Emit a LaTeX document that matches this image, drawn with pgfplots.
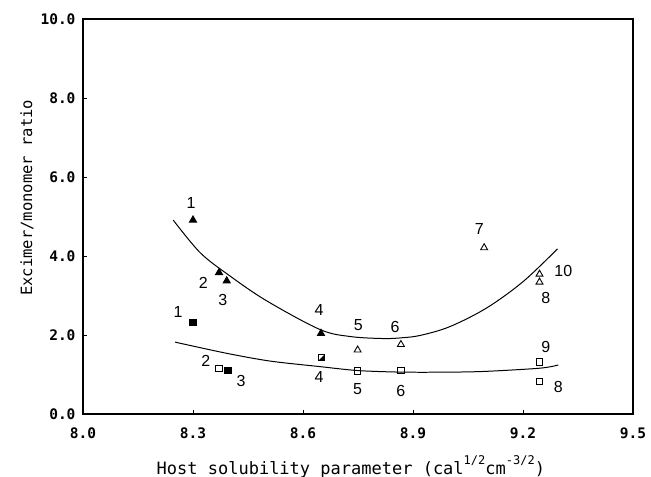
\documentclass[border=0pt]{standalone}
\usepackage{fontspec}
\setmainfont{Liberation Sans}
\newfontfamily\monofont{DejaVu Sans Mono}
\usepackage{pgfplots}
\pgfplotsset{compat=1.18}

% square with its lower-right half filled
\pgfdeclareplotmark{halfsquare}{%
  \pgfpathmoveto{\pgfqpoint{\pgfplotmarksize}{-\pgfplotmarksize}}%
  \pgfpathlineto{\pgfqpoint{\pgfplotmarksize}{\pgfplotmarksize}}%
  \pgfpathlineto{\pgfqpoint{-\pgfplotmarksize}{-\pgfplotmarksize}}%
  \pgfpathclose
  \pgfusepathqfill
  \pgfpathrectangle{\pgfqpoint{-\pgfplotmarksize}{-\pgfplotmarksize}}%
    {\pgfqpoint{2\pgfplotmarksize}{2\pgfplotmarksize}}%
  \pgfusepathqstroke
}

\tikzset{num/.style={font=\fontsize{16bp}{18bp}\selectfont, inner sep=0pt}}
\newcommand{\unitexp}[1]{\raisebox{0.55em}{\fontsize{12bp}{13bp}\selectfont #1}}

\begin{document}
\begin{tikzpicture}
\begin{axis}[
  scale only axis,
  width=550bp, height=395bp,
  xmin=8.0, xmax=9.5, ymin=0, ymax=10,
  xtick={8.0,8.3,8.6,8.9,9.2,9.5},
  ytick={0,2,4,6,8,10},
  xtick pos=left, ytick pos=left,
  tick align=inside,
  major tick length=4bp,
  axis line style={line width=1.1pt},
  tick style={line width=0.9pt, black},
  /pgf/number format/assume math mode=true,
  xticklabel style={/pgf/number format/.cd, fixed, fixed zerofill, precision=1},
  yticklabel style={/pgf/number format/.cd, fixed, fixed zerofill, precision=1},
  ticklabel style={font=\monofont\bfseries\fontsize{14.5bp}{16bp}\selectfont},
  xticklabel shift=10bp,
  yticklabel shift=4bp,
  xlabel={Host solubility parameter (cal\unitexp{1/2}cm\unitexp{-3/2})},
  ylabel={Excimer/monomer ratio},
  xlabel style={font=\monofont\fontsize{17bp}{19bp}\selectfont,
    at={(axis description cs:0.487,-0.134)}, anchor=center},
  ylabel style={font=\monofont\fontsize{15.5bp}{17bp}\selectfont,
    at={(axis description cs:-0.102,0.547)}, anchor=center},
  mark size=4bp,
  every axis plot/.append style={line width=1pt},
  clip=false,
]
% fitted curves
\addplot[black, smooth, tension=0.55, no markers] coordinates {
  (8.246,4.91) (8.32,4.08) (8.40,3.50) (8.50,2.87)
  (8.646,2.14) (8.73,1.96) (8.82,1.91) (8.87,1.93) (8.92,1.99)
  (9.0,2.21) (9.1,2.68) (9.2,3.35) (9.294,4.18)
};
\addplot[black, smooth, tension=0.5, no markers] coordinates {
  (8.251,1.82) (8.39,1.54) (8.51,1.34) (8.646,1.20) (8.749,1.10)
  (8.87,1.06) (9.0,1.06) (9.10,1.08) (9.246,1.16) (9.296,1.24)
};

% filled triangles
\addplot[only marks, mark=triangle*, mark options={fill=black, draw=black}] coordinates {
  (8.300,4.91) (8.371,3.58) (8.392,3.37) (8.649,2.04)
};
% open triangles
\addplot[only marks, mark=triangle, mark options={fill=white, draw=black, line width=0.9pt}] coordinates {
  (8.749,1.62) (8.867,1.76) (9.094,4.21) (9.245,3.54) (9.245,3.34)
};
% filled squares
\addplot[only marks, mark=square*, mark options={fill=black, draw=black, scale=0.8}] coordinates {
  (8.300,2.31) (8.395,1.10)
};
% half-filled square
\addplot[only marks, mark=halfsquare, mark options={fill=black, draw=black, scale=0.8, line width=0.9pt}] coordinates {
  (8.651,1.43)
};
% open squares
\addplot[only marks, mark=square, mark options={draw=black, scale=0.8, line width=0.9pt}] coordinates {
  (8.371,1.16) (8.749,1.09) (8.867,1.11) (9.245,1.32) (9.245,0.82)
};

% sample numbers
\node[num] at (axis cs:8.295,5.33) {1};
\node[num] at (axis cs:8.328,3.31) {2};
\node[num] at (axis cs:8.381,2.89) {3};
\node[num] at (axis cs:8.644,2.63) {4};
\node[num] at (axis cs:8.751,2.25) {5};
\node[num] at (axis cs:8.851,2.21) {6};
\node[num] at (axis cs:9.081,4.68) {7};
\node[num] at (axis cs:9.310,3.63) {10};
\node[num] at (axis cs:9.262,2.93) {8};
\node[num] at (axis cs:8.259,2.59) {1};
\node[num] at (axis cs:8.335,1.35) {2};
\node[num] at (axis cs:8.431,0.84) {3};
\node[num] at (axis cs:8.644,0.94) {4};
\node[num] at (axis cs:8.749,0.63) {5};
\node[num] at (axis cs:8.867,0.59) {6};
\node[num] at (axis cs:9.262,1.70) {9};
\node[num] at (axis cs:9.296,0.69) {8};
\end{axis}
\pgfresetboundingbox
\path[use as bounding box] ([shift={(-83bp,-63bp)}]current axis.south west)
  rectangle ([shift={(18bp,19bp)}]current axis.north east);
\end{tikzpicture}
\end{document}
